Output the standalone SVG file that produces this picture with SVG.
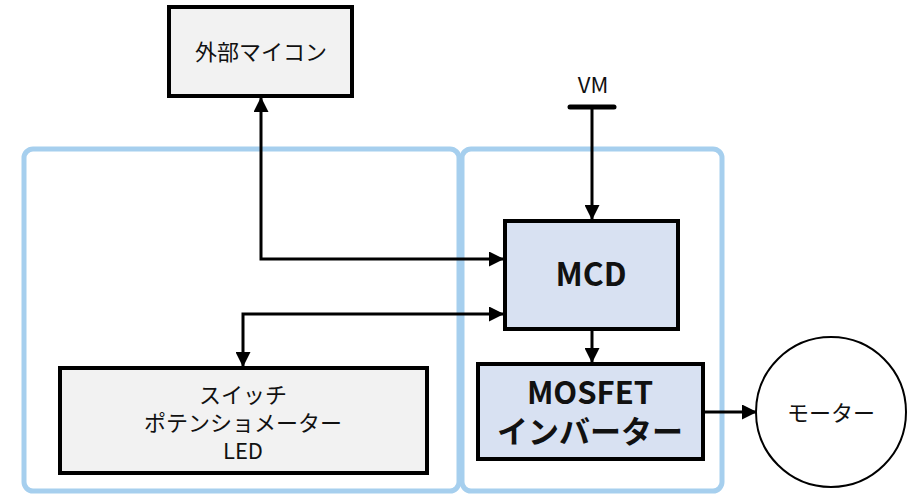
<svg xmlns="http://www.w3.org/2000/svg" width="907" height="494" viewBox="0 0 907 494">
<style>
.grp{fill:none;stroke:#a6cfee;stroke-width:5}
.gray{fill:#f2f2f2;stroke:#000;stroke-width:4}
.blue{fill:#d8e1f2;stroke:#000;stroke-width:4}
.ln{fill:none;stroke:#000;stroke-width:3}
text{font-family:"Noto Sans CJK JP","Noto Sans",sans-serif;fill:#111;text-anchor:middle}
.t{font-size:22px}
.b{font-size:31px;font-weight:bold}
</style>
<defs>
<marker id="ah" markerWidth="15" markerHeight="15" refX="14" refY="7.5" orient="auto-start-reverse" markerUnits="userSpaceOnUse">
<path d="M0,0 L15,7.5 L0,15 Z" fill="#000"/>
</marker>
</defs>
<g id="group-left"><rect class="grp" x="24" y="149" width="435" height="342" rx="9"/></g>
<g id="group-right"><rect class="grp" x="462" y="149" width="260" height="342" rx="9"/></g>
<g id="mcu"><rect class="gray" x="169" y="7" width="183" height="89"/><text class="t" x="261" y="60">外部マイコン</text></g>
<g id="vm"><text class="t" x="593" y="93">VM</text><line x1="570" y1="107" x2="614" y2="107" stroke="#000" stroke-width="5" stroke-linecap="round"/></g>
<g id="mcd"><rect class="blue" x="505" y="221" width="173" height="108"/><text class="b" x="591" y="286" style="font-size:32px">MCD</text></g>
<g id="io"><rect class="gray" x="60" y="368" width="367" height="105"/>
<text class="t" x="243" y="403">スイッチ</text><text class="t" x="243" y="431">ポテンショメーター</text><text class="t" x="243" y="459">LED</text></g>
<g id="mosfet"><rect class="blue" x="478" y="364" width="225" height="95"/><text class="b" x="590" y="404">MOSFET</text><text class="b" x="590" y="443">インバーター</text></g>
<g id="motor"><circle cx="831" cy="412" r="75" fill="#fff" stroke="#000" stroke-width="2"/><text class="t" x="831" y="421">モーター</text></g>
<g id="connectors">
<path class="ln" d="M261,98 L261,259 L503,259" marker-start="url(#ah)" marker-end="url(#ah)"/>
<path class="ln" d="M243,366 L243,314 L503,314" marker-start="url(#ah)" marker-end="url(#ah)"/>
<path class="ln" d="M592,109 L592,219" marker-end="url(#ah)"/>
<path class="ln" d="M592,331 L592,362" marker-end="url(#ah)"/>
<path class="ln" d="M705,412 L756,412" marker-end="url(#ah)"/>
</g>
</svg>
